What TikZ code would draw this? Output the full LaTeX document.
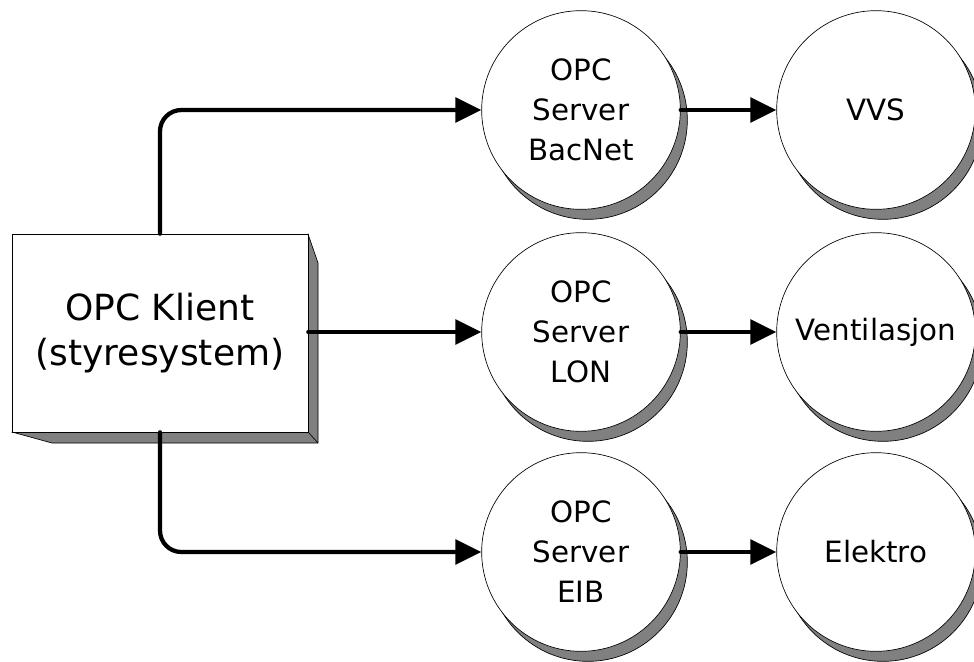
\documentclass[tikz,border=0pt]{standalone}
\usepackage{fontspec}
\setmainfont{DejaVu Sans}
\usetikzlibrary{arrows.meta}
\definecolor{shadegray}{RGB}{128,128,128}
\tikzset{
  link/.style={line width=3.2pt, line cap=round, rounded corners=16pt,
    -{Triangle[length=19.5pt,width=18.5pt]}},
  disc/.style={circle, draw, fill=white, line width=0.5pt, minimum size=149pt,
    inner sep=0pt, align=center, font=\fontsize{22}{30}\selectfont},
  discshade/.style={circle, draw, fill=shadegray, line width=0.5pt, minimum size=149pt,
    inner sep=0pt},
}
\begin{document}
\begin{tikzpicture}[x=0.75pt,y=-0.75pt]
\useasboundingbox (0,0) rectangle (974,661);

% client box with raised shading on the right and bottom
\filldraw[fill=shadegray,draw=black,line width=0.5pt] (12,432) -- (52,443) -- (318,443) -- (318,263) -- (308,234) -- cycle;
\draw[line width=0.5pt] (308,432) -- (318,443);
\node[draw, fill=white, line width=0.5pt, minimum width=222pt, minimum height=148.5pt,
  inner sep=0pt, align=center, font=\fontsize{27}{34}\selectfont]
  (client) at (160,333) {OPC Klient\\(styresystem)};

% servers and subsystems, each disc with an offset shadow
\foreach \nm/\cx/\cy in {sb/581/110, sl/581/332, se/581/552, vv/876/110, ve/876/332, el/876/552}{
  \node[discshade] (\nm-shade) at (\cx+7,\cy+10) {};
}
\node[disc] (bacnet) at (581,110) {OPC\\Server\\BacNet};
\node[disc] (lon)    at (581,332) {OPC\\Server\\LON};
\node[disc] (eib)    at (581,552) {OPC\\Server\\EIB};
\node[disc] (vvs)    at (876,110) {VVS};
\node[disc] (vent)   at (876,332) {Ventilasjon};
\node[disc] (elek)   at (876,552) {Elektro};

% connectors
\draw[link] (client.north -| 160,0) |- (bacnet.west);
\draw[link] (client.east |- lon.west) -- (lon.west);
\draw[link] (client.south -| 160,0) |- (eib.west);
\draw[link] (bacnet.east) -- (vvs.west);
\draw[link] (lon.east) -- (vent.west);
\draw[link] (eib.east) -- (elek.west);
\end{tikzpicture}
\end{document}
